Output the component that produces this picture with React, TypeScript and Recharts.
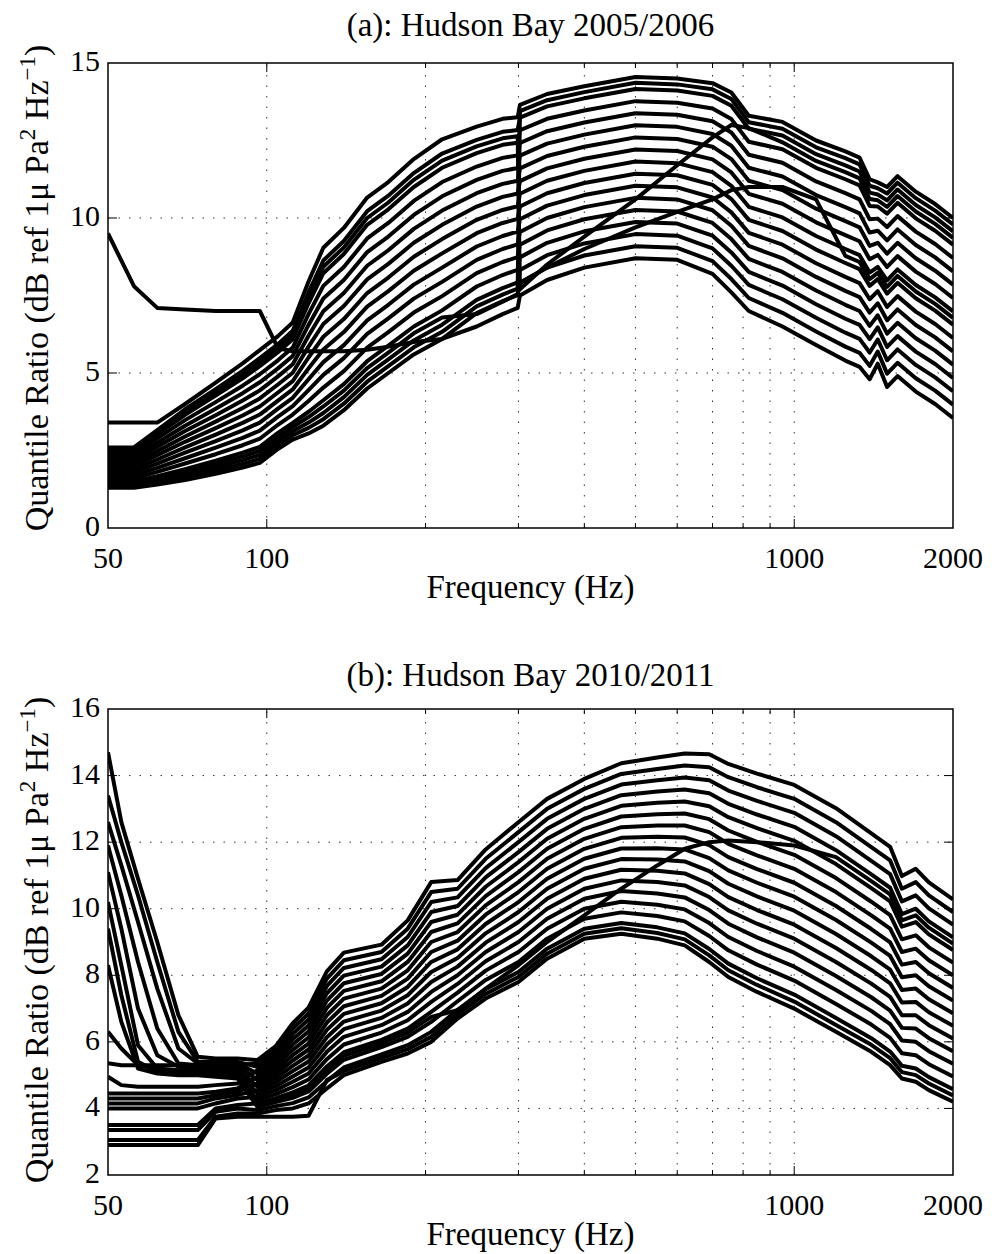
import React from 'react';
import { LineChart, Line, XAxis, YAxis, ReferenceLine, ReferenceArea } from 'recharts';

const FONT = '"Liberation Serif", "Times New Roman", Times, serif';
const W = 992;
const Y_AXIS_W = 100;

// ---------- shared axis values ----------
const xTickValues = [50, 100, 200, 300, 400, 500, 600, 700, 800, 900, 1000, 2000];
const xTickLabels = [50, 100, 1000, 2000];
const xMajor = [100, 1000];
const xGrid = [100, 200, 300, 400, 500, 600, 700, 800, 900, 1000];

// ---------- panel (a): Hudson Bay 2005/2006 ----------
const freqA = [50, 56, 62, 70, 80, 90, 97, 105, 112, 120, 128, 140, 155, 170, 190, 215, 250, 280, 299, 302, 340, 400, 500, 600, 700, 760, 820, 950, 1100, 1250, 1330, 1390, 1440, 1500, 1570, 1700, 1850, 2000];
const yTicksA = [0, 5, 10, 15];
const yGridA = [5, 10];

const aR0 = [9.5, 7.8, 7.1, 7.05, 7.0, 7.0, 7.0, 5.8, 5.7, 5.7, 5.7, 5.7, 5.75, 5.85, 6.0, 6.1, 6.5, 6.9, 7.1, 7.5, 8.0, 8.4, 8.7, 8.65, 8.2, 7.6, 7.0, 6.5, 5.9, 5.4, 5.2, 4.8, 5.3, 4.55, 4.9, 4.4, 4.0, 3.55];
const aR1 = [1.3, 1.3, 1.4, 1.55, 1.75, 1.95, 2.1, 2.55, 2.85, 3.05, 3.3, 3.8, 4.5, 5.0, 5.6, 6.1, 6.93, 7.32, 7.51, 7.91, 8.4, 8.79, 9.09, 9.04, 8.61, 8.03, 7.42, 6.94, 6.34, 5.85, 5.65, 5.23, 5.69, 4.98, 5.33, 4.83, 4.43, 3.98];
const aR2 = [1.4, 1.4, 1.54, 1.73, 1.96, 2.19, 2.36, 2.81, 3.12, 3.4, 3.71, 4.22, 4.94, 5.44, 6.05, 6.56, 7.36, 7.74, 7.92, 8.32, 8.8, 9.18, 9.48, 9.43, 9.02, 8.46, 7.84, 7.38, 6.78, 6.3, 6.1, 5.66, 6.08, 5.41, 5.76, 5.26, 4.86, 4.41];
const aR3 = [1.5, 1.5, 1.67, 1.9, 2.17, 2.43, 2.62, 3.07, 3.39, 3.75, 4.12, 4.64, 5.38, 5.88, 6.5, 7.02, 7.79, 8.16, 8.33, 8.73, 9.2, 9.57, 9.87, 9.82, 9.43, 8.89, 8.26, 7.82, 7.22, 6.75, 6.55, 6.09, 6.47, 5.84, 6.19, 5.69, 5.29, 4.84];
const aR4 = [1.6, 1.6, 1.81, 2.08, 2.38, 2.67, 2.88, 3.33, 3.66, 4.1, 4.53, 5.06, 5.82, 6.32, 6.95, 7.48, 8.22, 8.58, 8.74, 9.14, 9.6, 9.96, 10.26, 10.21, 9.84, 9.32, 8.68, 8.26, 7.66, 7.2, 7.0, 6.52, 6.86, 6.27, 6.62, 6.12, 5.72, 5.27];
const aR5 = [1.7, 1.7, 1.94, 2.25, 2.59, 2.91, 3.14, 3.59, 3.93, 4.45, 4.94, 5.48, 6.26, 6.76, 7.4, 7.94, 8.65, 9.0, 9.15, 9.55, 10.0, 10.35, 10.65, 10.6, 10.25, 9.75, 9.1, 8.7, 8.1, 7.65, 7.45, 6.95, 7.25, 6.7, 7.05, 6.55, 6.15, 5.7];
const aR6 = [1.8, 1.8, 2.08, 2.43, 2.8, 3.15, 3.4, 3.85, 4.2, 4.8, 5.35, 5.9, 6.7, 7.2, 7.85, 8.4, 9.08, 9.42, 9.56, 9.96, 10.4, 10.74, 11.04, 10.99, 10.66, 10.18, 9.52, 9.14, 8.54, 8.1, 7.9, 7.38, 7.64, 7.13, 7.48, 6.98, 6.58, 6.13];
const aR7 = [1.9, 1.9, 2.21, 2.6, 3.01, 3.39, 3.66, 4.11, 4.47, 5.15, 5.76, 6.32, 7.14, 7.64, 8.3, 8.86, 9.51, 9.84, 9.97, 10.37, 10.8, 11.13, 11.43, 11.38, 11.07, 10.61, 9.94, 9.58, 8.98, 8.55, 8.35, 7.81, 8.03, 7.56, 7.91, 7.41, 7.01, 6.56];
const aR8 = [2.0, 2.0, 2.35, 2.78, 3.22, 3.63, 3.92, 4.37, 4.74, 5.5, 6.17, 6.74, 7.58, 8.08, 8.75, 9.32, 9.94, 10.26, 10.38, 10.78, 11.2, 11.52, 11.82, 11.77, 11.48, 11.04, 10.36, 10.02, 9.42, 9.0, 8.8, 8.24, 8.42, 7.99, 8.34, 7.84, 7.44, 6.99];
const aR9 = [2.1, 2.1, 2.48, 2.95, 3.43, 3.87, 4.18, 4.63, 5.01, 5.85, 6.58, 7.16, 8.02, 8.52, 9.2, 9.78, 10.37, 10.68, 10.79, 11.19, 11.6, 11.91, 12.21, 12.16, 11.89, 11.47, 10.78, 10.46, 9.86, 9.45, 9.25, 8.67, 8.81, 8.42, 8.77, 8.27, 7.87, 7.42];
const aR10 = [2.2, 2.2, 2.62, 3.13, 3.64, 4.11, 4.44, 4.89, 5.28, 6.2, 6.99, 7.58, 8.46, 8.96, 9.65, 10.24, 10.8, 11.1, 11.2, 11.6, 12.0, 12.3, 12.6, 12.55, 12.3, 11.9, 11.2, 10.9, 10.3, 9.9, 9.7, 9.1, 9.2, 8.85, 9.2, 8.7, 8.3, 7.85];
const aR11 = [2.3, 2.3, 2.75, 3.3, 3.85, 4.35, 4.7, 5.15, 5.55, 6.55, 7.4, 8.0, 8.9, 9.4, 10.1, 10.7, 11.23, 11.52, 11.61, 12.01, 12.4, 12.69, 12.99, 12.94, 12.71, 12.33, 11.62, 11.34, 10.74, 10.35, 10.15, 9.53, 9.59, 9.28, 9.63, 9.13, 8.73, 8.28];
const aR12 = [2.4, 2.4, 2.89, 3.48, 4.06, 4.59, 4.96, 5.41, 5.82, 6.9, 7.81, 8.42, 9.34, 9.84, 10.55, 11.16, 11.66, 11.94, 12.02, 12.42, 12.8, 13.08, 13.38, 13.33, 13.12, 12.76, 12.04, 11.78, 11.18, 10.8, 10.6, 9.96, 9.98, 9.71, 10.06, 9.56, 9.16, 8.71];
const aR13 = [2.5, 2.5, 3.02, 3.65, 4.27, 4.83, 5.22, 5.67, 6.09, 7.25, 8.22, 8.84, 9.78, 10.28, 11.0, 11.62, 12.09, 12.36, 12.43, 12.83, 13.2, 13.47, 13.77, 13.72, 13.53, 13.19, 12.46, 12.22, 11.62, 11.25, 11.05, 10.39, 10.37, 10.14, 10.49, 9.99, 9.59, 9.14];
const aR14 = [2.6, 2.6, 3.16, 3.83, 4.48, 5.07, 5.48, 5.93, 6.36, 7.6, 8.63, 9.26, 10.22, 10.72, 11.45, 12.08, 12.52, 12.78, 12.84, 13.24, 13.6, 13.86, 14.16, 14.11, 13.94, 13.62, 12.88, 12.66, 12.06, 11.7, 11.5, 10.82, 10.76, 10.57, 10.92, 10.42, 10.02, 9.57];
const aR15 = [3.4, 3.4, 3.4, 4.0, 4.69, 5.31, 5.74, 6.19, 6.63, 7.95, 9.04, 9.68, 10.66, 11.16, 11.9, 12.54, 12.95, 13.2, 13.25, 13.65, 14.0, 14.25, 14.55, 14.5, 14.35, 14.05, 13.3, 13.1, 12.5, 12.15, 11.95, 11.25, 11.15, 11.0, 11.35, 10.85, 10.45, 10.0];
const aX1 = [1.45, 1.45, 1.6, 1.81, 2.07, 2.31, 2.49, 2.94, 3.26, 3.58, 3.92, 4.43, 5.16, 5.66, 6.28, 6.79, 6.9, 7.3, 7.55, 7.9, 8.4, 9.0, 9.7, 10.2, 10.6, 10.9, 11.0, 11.0, 10.6, 8.78, 8.58, 8.03, 8.23, 7.78, 8.13, 7.63, 7.23, 6.78];
const aX2 = [1.35, 1.35, 1.47, 1.64, 1.86, 2.07, 2.23, 2.68, 2.99, 3.23, 3.51, 4.01, 4.72, 5.22, 5.83, 6.33, 7.15, 7.53, 7.72, 13.45, 13.8, 14.06, 14.36, 14.31, 14.15, 13.84, 13.09, 12.88, 12.28, 11.93, 11.73, 11.04, 10.96, 10.79, 11.14, 10.64, 10.24, 9.79];
const aX3 = [2.55, 2.55, 3.09, 3.74, 4.38, 4.95, 5.35, 5.8, 6.23, 7.43, 8.43, 9.05, 10.0, 10.5, 11.23, 11.85, 12.31, 12.57, 12.64, 7.7, 8.5, 9.4, 10.6, 11.7, 12.6, 13.0, 12.9, 12.44, 11.84, 11.48, 11.28, 10.61, 10.57, 10.36, 10.71, 10.21, 9.81, 9.36];

const seriesA = [aR0, aR1, aR2, aR3, aR4, aR5, aR6, aR7, aR8, aR9, aR10, aR11, aR12, aR13, aR14, aR15, aX1, aX2, aX3];

// ---------- panel (b): Hudson Bay 2010/2011 ----------
const freqB = [50, 53, 57, 62, 68, 74, 80, 88, 96, 104, 112, 120, 130, 140, 165, 185, 205, 230, 260, 300, 340, 400, 470, 550, 620, 690, 750, 850, 1000, 1200, 1400, 1520, 1600, 1700, 1800, 2000];
const yTicksB = [2, 4, 6, 8, 10, 12, 14, 16];
const yGridB = [4, 6, 8, 10, 12, 14];

const bR0 = [3.05, 3.05, 3.05, 3.05, 3.05, 3.05, 3.75, 3.85, 3.85, 3.95, 4.0, 4.15, 4.6, 5.0, 5.4, 5.65, 6.0, 6.7, 7.3, 7.8, 8.5, 9.1, 9.25, 9.1, 8.9, 8.4, 7.95, 7.5, 7.0, 6.3, 5.7, 5.3, 4.9, 4.8, 4.55, 4.2];
const bR1 = [3.35, 3.35, 3.35, 3.35, 3.35, 3.35, 3.9, 4.0, 3.95, 4.07, 4.16, 4.33, 4.82, 5.23, 5.62, 5.9, 6.3, 6.96, 7.58, 8.1, 8.8, 9.4, 9.57, 9.44, 9.26, 8.79, 8.35, 7.91, 7.42, 6.72, 6.11, 5.71, 5.28, 5.2, 4.94, 4.58];
const bR2 = [8.3, 6.6, 5.2, 5.05, 5.0, 5.0, 4.95, 4.9, 4.05, 4.19, 4.32, 4.51, 5.04, 5.46, 5.84, 6.15, 6.6, 7.22, 7.86, 8.4, 9.1, 9.7, 9.89, 9.78, 9.62, 9.18, 8.75, 8.32, 7.84, 7.14, 6.52, 6.12, 5.66, 5.6, 5.33, 4.96];
const bR3 = [3.5, 3.5, 3.5, 3.5, 3.5, 3.5, 4.0, 4.1, 4.15, 4.31, 4.48, 4.69, 5.26, 5.69, 6.06, 6.4, 6.9, 7.48, 8.14, 8.7, 9.4, 10.0, 10.21, 10.12, 9.98, 9.57, 9.15, 8.73, 8.26, 7.56, 6.93, 6.53, 6.04, 6.0, 5.72, 5.34];
const bR4 = [9.4, 7.4, 5.4, 5.1, 5.05, 5.05, 5.0, 5.0, 4.25, 4.43, 4.64, 4.87, 5.48, 5.92, 6.28, 6.65, 7.2, 7.74, 8.42, 9.0, 9.7, 10.3, 10.53, 10.46, 10.34, 9.96, 9.55, 9.14, 8.68, 7.98, 7.34, 6.94, 6.42, 6.4, 6.11, 5.72];
const bR5 = [4.0, 4.0, 4.0, 4.0, 4.0, 4.0, 4.15, 4.3, 4.35, 4.55, 4.8, 5.05, 5.7, 6.15, 6.5, 6.9, 7.5, 8.0, 8.7, 9.3, 10.0, 10.6, 10.85, 10.8, 10.7, 10.35, 9.95, 9.55, 9.1, 8.4, 7.75, 7.35, 6.8, 6.8, 6.5, 6.1];
const bR6 = [10.2, 8.3, 5.9, 5.2, 5.15, 5.1, 5.1, 5.1, 4.45, 4.67, 4.96, 5.23, 5.92, 6.38, 6.72, 7.15, 7.8, 8.26, 8.98, 9.6, 10.3, 10.9, 11.17, 11.14, 11.06, 10.74, 10.35, 9.96, 9.52, 8.82, 8.16, 7.76, 7.18, 7.2, 6.89, 6.48];
const bR7 = [4.15, 4.15, 4.15, 4.15, 4.15, 4.15, 4.3, 4.4, 4.55, 4.79, 5.12, 5.41, 6.14, 6.61, 6.94, 7.4, 8.1, 8.52, 9.26, 9.9, 10.6, 11.2, 11.49, 11.48, 11.42, 11.13, 10.75, 10.37, 9.94, 9.24, 8.57, 8.17, 7.56, 7.6, 7.28, 6.86];
const bR8 = [11.1, 9.4, 7.0, 5.6, 5.25, 5.2, 5.2, 5.2, 4.65, 4.91, 5.28, 5.59, 6.36, 6.84, 7.16, 7.65, 8.4, 8.78, 9.54, 10.2, 10.9, 11.5, 11.81, 11.82, 11.78, 11.52, 11.15, 10.78, 10.36, 9.66, 8.98, 8.58, 7.94, 8.0, 7.67, 7.24];
const bR9 = [4.3, 4.3, 4.3, 4.3, 4.3, 4.3, 4.4, 4.5, 4.75, 5.03, 5.44, 5.77, 6.58, 7.07, 7.38, 7.9, 8.7, 9.04, 9.82, 10.5, 11.2, 11.8, 12.13, 12.16, 12.14, 11.91, 11.55, 11.19, 10.78, 10.08, 9.39, 8.99, 8.32, 8.4, 8.06, 7.62];
const bR10 = [11.9, 10.4, 8.4, 6.4, 5.35, 5.3, 5.3, 5.3, 4.85, 5.15, 5.6, 5.95, 6.8, 7.3, 7.6, 8.15, 9.0, 9.3, 10.1, 10.8, 11.5, 12.1, 12.45, 12.5, 12.5, 12.3, 11.95, 11.6, 11.2, 10.5, 9.8, 9.4, 8.7, 8.8, 8.45, 8.0];
const bR11 = [4.45, 4.45, 4.45, 4.45, 4.45, 4.45, 4.5, 4.6, 4.95, 5.27, 5.76, 6.13, 7.02, 7.53, 7.82, 8.4, 9.3, 9.56, 10.38, 11.1, 11.8, 12.4, 12.77, 12.84, 12.86, 12.69, 12.35, 12.01, 11.62, 10.92, 10.21, 9.81, 9.08, 9.2, 8.84, 8.38];
const bR12 = [12.6, 11.3, 9.6, 7.6, 5.8, 5.35, 5.35, 5.35, 5.05, 5.39, 5.92, 6.31, 7.24, 7.76, 8.04, 8.65, 9.6, 9.82, 10.66, 11.4, 12.1, 12.7, 13.09, 13.18, 13.22, 13.08, 12.75, 12.42, 12.04, 11.34, 10.62, 10.22, 9.46, 9.6, 9.23, 8.76];
const bR13 = [4.95, 4.7, 4.65, 4.65, 4.65, 4.65, 4.7, 4.75, 5.15, 5.51, 6.08, 6.49, 7.46, 7.99, 8.26, 8.9, 9.9, 10.08, 10.94, 11.7, 12.4, 13.0, 13.41, 13.52, 13.58, 13.47, 13.15, 12.83, 12.46, 11.76, 11.03, 10.63, 9.84, 10.0, 9.62, 9.14];
const bR14 = [13.4, 12.0, 10.4, 8.4, 6.3, 5.4, 5.4, 5.4, 5.25, 5.63, 6.24, 6.67, 7.68, 8.22, 8.48, 9.15, 10.2, 10.34, 11.22, 12.0, 12.7, 13.3, 13.73, 13.86, 13.94, 13.86, 13.55, 13.24, 12.88, 12.18, 11.44, 11.04, 10.22, 10.4, 10.01, 9.52];
const bR15 = [5.36, 5.3, 5.3, 5.3, 5.3, 5.3, 5.3, 5.3, 5.35, 5.75, 6.4, 6.85, 7.9, 8.45, 8.7, 9.4, 10.5, 10.6, 11.5, 12.3, 13.0, 13.6, 14.05, 14.2, 14.3, 14.25, 13.95, 13.65, 13.3, 12.6, 11.85, 11.45, 10.6, 10.8, 10.4, 9.9];
const bR16 = [14.7, 12.6, 10.9, 9.0, 6.8, 5.55, 5.5, 5.5, 5.45, 5.87, 6.56, 7.03, 8.12, 8.68, 8.92, 9.65, 10.8, 10.86, 11.78, 12.6, 13.3, 13.9, 14.37, 14.54, 14.66, 14.64, 14.35, 14.06, 13.72, 13.02, 12.26, 11.86, 10.98, 11.2, 10.79, 10.28];
const bX1 = [6.3, 5.8, 5.3, 5.2, 5.1, 5.05, 5.05, 5.0, 4.1, 4.25, 4.4, 4.6, 5.15, 5.58, 5.95, 6.28, 6.75, 6.95, 7.6, 8.3, 9.0, 9.8, 10.6, 11.3, 11.8, 12.0, 12.05, 12.0, 11.9, 11.55, 10.83, 10.43, 9.65, 9.8, 9.43, 8.95];
const bX2 = [2.9, 2.9, 2.9, 2.9, 2.9, 2.9, 3.7, 3.75, 3.75, 3.75, 3.75, 3.78, 4.85, 5.12, 5.51, 5.78, 6.15, 6.83, 7.44, 7.95, 8.65, 9.25, 9.41, 9.27, 9.08, 8.6, 8.15, 7.71, 7.21, 6.51, 5.91, 5.51, 5.09, 5.0, 4.75, 4.39];

const seriesB = [bR0, bR1, bR2, bR3, bR4, bR5, bR6, bR7, bR8, bR9, bR10, bR11, bR12, bR13, bR14, bR15, bR16, bX1, bX2];

function buildRows(freqs: number[], series: number[][]) {
  return freqs.map((f, j) => {
    const row: Record<string, number> = { f };
    series.forEach((s, k) => {
      row['s' + k] = s[j];
    });
    return row;
  });
}

const dataA = buildRows(freqA, seriesA);
const dataB = buildRows(freqB, seriesB);

type PanelProps = {
  data: Record<string, number>[];
  nSeries: number;
  yDomain: [number, number];
  yTicks: number[];
  yGrid: number[];
  height: number;
  margin: { top: number; right: number; bottom: number; left: number };
  xAxisHeight: number;
};

function Panel({ data, nSeries, yDomain, yTicks, yGrid, height, margin, xAxisHeight }: PanelProps) {
  const plotTop = margin.top;
  const plotBottom = height - margin.bottom - xAxisHeight;
  const plotLeft = margin.left + Y_AXIS_W;
  const plotRight = W - margin.right;

  const XTick = (props: any) => {
    const x = Number(props.x);
    const v = props.payload.value;
    const edge = v === 50 || v === 2000;
    const len = xMajor.includes(v) ? 9 : 5;
    return (
      <g>
        {!edge && <line x1={x} x2={x} y1={plotBottom} y2={plotBottom - len} stroke="#000" strokeWidth={1} />}
        {!edge && <line x1={x} x2={x} y1={plotTop} y2={plotTop + len} stroke="#000" strokeWidth={1} />}
        {xTickLabels.includes(v) && (
          <text x={x} y={plotBottom + 40} textAnchor="middle" fontFamily={FONT} fontSize={30} fill="#000">
            {v}
          </text>
        )}
      </g>
    );
  };

  const YTick = (props: any) => {
    const y = Number(props.y);
    const v = props.payload.value;
    const edge = v === yDomain[0] || v === yDomain[1];
    return (
      <g>
        {!edge && <line x1={plotLeft} x2={plotLeft + 9} y1={y} y2={y} stroke="#000" strokeWidth={1} />}
        {!edge && <line x1={plotRight} x2={plotRight - 9} y1={y} y2={y} stroke="#000" strokeWidth={1} />}
        <text x={plotLeft - 8} y={y + 8} textAnchor="end" fontFamily={FONT} fontSize={30} fill="#000">
          {v}
        </text>
      </g>
    );
  };

  return (
    <LineChart width={W} height={height} data={data} margin={margin}>
      <XAxis
        dataKey="f"
        type="number"
        scale="log"
        domain={[50, 2000]}
        ticks={xTickValues}
        interval={0}
        tick={XTick}
        tickLine={false}
        axisLine={false}
        tickSize={0}
        tickMargin={0}
        height={xAxisHeight}
        allowDataOverflow
      />
      <YAxis
        type="number"
        domain={yDomain}
        ticks={yTicks}
        interval={0}
        tick={YTick}
        tickLine={false}
        axisLine={false}
        tickSize={0}
        tickMargin={0}
        width={Y_AXIS_W}
        allowDataOverflow
      />
      {xGrid.map((v) => (
        <ReferenceLine key={'gx' + v} x={v} stroke="#333" strokeWidth={1} strokeDasharray="1.5 9" />
      ))}
      {yGrid.map((v) => (
        <ReferenceLine key={'gy' + v} y={v} stroke="#333" strokeWidth={1} strokeDasharray="1.5 9" />
      ))}
      {Array.from({ length: nSeries }).map((_, k) => (
        <Line
          key={'s' + k}
          dataKey={'s' + k}
          type="linear"
          stroke="#000"
          strokeWidth={4}
          strokeLinejoin="round"
          dot={false}
          activeDot={false}
          legendType="none"
          isAnimationActive={false}
        />
      ))}
      <ReferenceArea
        x1={50}
        x2={2000}
        y1={yDomain[0]}
        y2={yDomain[1]}
        fill="none"
        fillOpacity={0}
        stroke="#000"
        strokeWidth={1.5}
      />
    </LineChart>
  );
}

function YLabel({ cx, cy }: { cx: number; cy: number }) {
  return (
    <text
      transform={`rotate(-90 ${cx} ${cy})`}
      x={cx}
      y={cy}
      textAnchor="middle"
      fontFamily={FONT}
      fontSize={34}
      fill="#000"
    >
      Quantile Ratio (dB ref 1μ Pa
      <tspan dy={-13} fontSize={23}>2</tspan>
      <tspan dy={13}> Hz</tspan>
      <tspan dy={-13} fontSize={23}>−1</tspan>
      <tspan dy={13}>)</tspan>
    </text>
  );
}

export default function App() {
  return (
    <div style={{ position: 'absolute', left: 0, top: 0, width: W, height: 1254, background: '#fff' }}>
      <div style={{ position: 'absolute', left: 0, top: 0 }}>
        <Panel
          data={dataA}
          nSeries={seriesA.length}
          yDomain={[0, 15]}
          yTicks={yTicksA}
          yGrid={yGridA}
          height={640}
          margin={{ top: 63, right: 39, bottom: 42, left: 8 }}
          xAxisHeight={70}
        />
      </div>
      <div style={{ position: 'absolute', left: 0, top: 640 }}>
        <Panel
          data={dataB}
          nSeries={seriesB.length}
          yDomain={[2, 16]}
          yTicks={yTicksB}
          yGrid={yGridB}
          height={614}
          margin={{ top: 69, right: 39, bottom: 19, left: 8 }}
          xAxisHeight={60}
        />
      </div>
      <svg width={W} height={1254} style={{ position: 'absolute', left: 0, top: 0, pointerEvents: 'none' }}>
        <text x={530.5} y={36} textAnchor="middle" fontFamily={FONT} fontSize={33} fill="#000">
          (a): Hudson Bay 2005/2006
        </text>
        <text x={530.5} y={598} textAnchor="middle" fontFamily={FONT} fontSize={33} fill="#000">
          Frequency (Hz)
        </text>
        <YLabel cx={48} cy={288} />
        <text x={530.5} y={686} textAnchor="middle" fontFamily={FONT} fontSize={33} fill="#000">
          (b): Hudson Bay 2010/2011
        </text>
        <text x={530.5} y={1245} textAnchor="middle" fontFamily={FONT} fontSize={33} fill="#000">
          Frequency (Hz)
        </text>
        <YLabel cx={48} cy={940} />
      </svg>
    </div>
  );
}
